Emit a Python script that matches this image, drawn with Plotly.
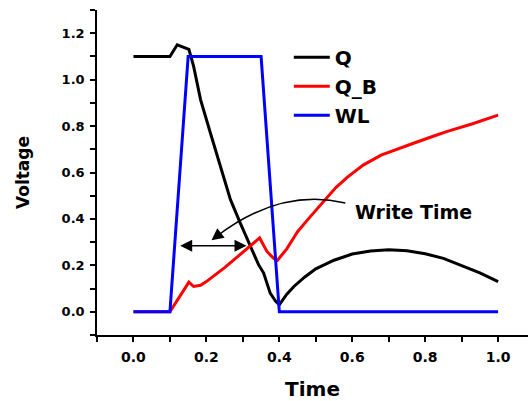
import plotly.graph_objects as go

# ---- data ----
q_t = [0.0, 0.1, 0.12, 0.152, 0.165, 0.184, 0.211, 0.238, 0.266, 0.293, 0.321, 0.343, 0.357, 0.375, 0.39, 0.4,
       0.42, 0.44, 0.47, 0.5, 0.55, 0.6, 0.65, 0.7, 0.75, 0.8, 0.85, 0.9, 0.95, 1.0]
q_v = [1.1, 1.1, 1.15, 1.13, 1.057, 0.914, 0.77, 0.626, 0.483, 0.382, 0.282, 0.203, 0.167, 0.08, 0.045, 0.03,
       0.075, 0.109, 0.15, 0.185, 0.222, 0.249, 0.262, 0.267, 0.263, 0.25, 0.23, 0.2, 0.168, 0.13]

qb_t = [0.0, 0.1, 0.152, 0.165, 0.184, 0.2, 0.25, 0.3, 0.346, 0.366, 0.384, 0.395, 0.42, 0.44, 0.45, 0.485,
        0.523, 0.555, 0.587, 0.63, 0.679, 0.72, 0.77, 0.82, 0.861, 0.93, 1.0]
qb_v = [0.0, 0.0, 0.128, 0.109, 0.114, 0.13, 0.19, 0.255, 0.318, 0.26, 0.231, 0.222, 0.27, 0.32, 0.345, 0.41,
        0.48, 0.535, 0.58, 0.632, 0.675, 0.70, 0.727, 0.755, 0.777, 0.81, 0.847]

wl_t = [0.0, 0.1, 0.15, 0.35, 0.4, 1.0]
wl_v = [0.0, 0.0, 1.1, 1.1, 0.0, 0.0]

series_names = ["Q", "Q_B", "WL"]
x_ticks = [0.0, 0.2, 0.4, 0.6, 0.8, 1.0]
y_ticks = [0.0, 0.2, 0.4, 0.6, 0.8, 1.0, 1.2]

FONT = "DejaVu Sans, Arial, sans-serif"

fig = go.Figure()
fig.add_trace(go.Scatter(x=q_t, y=q_v, mode="lines", name=f"<b>{series_names[0]}</b>",
                         line=dict(color="#000000", width=3)))
fig.add_trace(go.Scatter(x=qb_t, y=qb_v, mode="lines", name=f"<b>{series_names[1]}</b>",
                         line=dict(color="#FF0000", width=3)))
fig.add_trace(go.Scatter(x=wl_t, y=wl_v, mode="lines", name=f"<b>{series_names[2]}</b>",
                         line=dict(color="#0000FF", width=3)))

# curved arrow
fig.add_shape(type="path", xref="x", yref="y",
              path="M 0.581,0.469 Q 0.40,0.535 0.224,0.320",
              line=dict(color="black", width=1.5))
fig.add_annotation(x=0.214, y=0.308, ax=0.232, ay=0.330, xref="x", yref="y", axref="x", ayref="y",
                   text="", showarrow=True, arrowhead=2, arrowsize=1.6, arrowwidth=1.5, arrowcolor="black")
# double arrow
fig.add_annotation(x=0.31, y=0.284, ax=0.124, ay=0.284, xref="x", yref="y", axref="x", ayref="y",
                   text="", showarrow=True, arrowhead=2, startarrowhead=2, arrowside="end+start",
                   arrowsize=1.6, startarrowsize=1.6, arrowwidth=1.5, arrowcolor="black")
fig.add_annotation(x=0.603, y=0.431, xref="x", yref="y", text="<b>Write Time</b>", showarrow=False,
                   xanchor="left", yanchor="middle", font=dict(family=FONT, size=19, color="black"))

axis_common = dict(showline=True, linecolor="black", linewidth=1.5, showgrid=False, zeroline=False,
                   ticks="outside", ticklen=5, tickwidth=1.5, tickcolor="black")

fig.update_xaxes(range=[-0.1, 1.082], tickvals=x_ticks, ticktext=[f"<b>{v:.1f}</b>" for v in x_ticks],
                 tickfont=dict(family=FONT, size=14, color="black"), ticklabelstandoff=3,
                 minor=dict(dtick=0.1, tick0=-0.1, ticks="outside", ticklen=5, tickwidth=1.5, tickcolor="black"),
                 title=dict(text="<b>Time</b>", font=dict(family=FONT, size=20, color="black"), standoff=18),
                 **axis_common)
fig.update_yaxes(range=[-0.1, 1.3], tickvals=y_ticks, ticktext=[f"<b>{v:.1f}</b>" for v in y_ticks],
                 tickfont=dict(family=FONT, size=13, color="black"), ticklabelstandoff=3,
                 minor=dict(dtick=0.1, tick0=-0.1, ticks="outside", ticklen=5, tickwidth=1.5, tickcolor="black"),
                 title=dict(text="<b>Voltage</b>", font=dict(family=FONT, size=17, color="black"), standoff=28),
                 **axis_common)

fig.update_layout(
    width=528, height=401,
    margin=dict(l=97, r=0, t=10, b=66),
    plot_bgcolor="white", paper_bgcolor="white",
    showlegend=True,
    legend=dict(x=0.445, y=0.915, xanchor="left", yanchor="top", bgcolor="rgba(0,0,0,0)",
                itemwidth=36,
                font=dict(family=FONT, size=20, color="black"), tracegroupgap=0),
)

fig.write_html("out.html")
